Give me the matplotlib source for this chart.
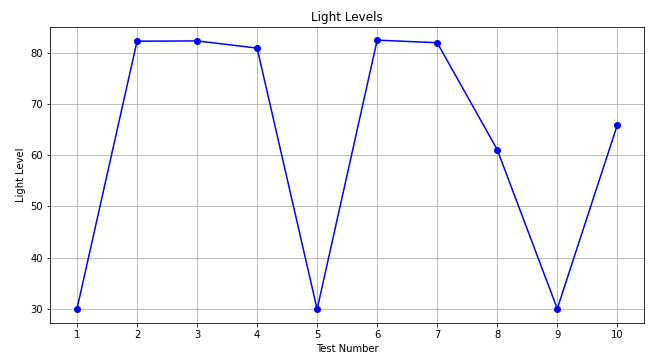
import matplotlib
matplotlib.use("Agg")
import matplotlib.pyplot as plt

test_numbers = [1, 2, 3, 4, 5, 6, 7, 8, 9, 10]
light_levels = [30.0, 82.3, 82.35, 80.95, 29.9, 82.5, 82.0, 61.1, 30.0, 65.9]

W, H, DPI = 649, 356, 72
fig = plt.figure(figsize=(W / DPI, H / DPI), dpi=DPI)
ax = fig.add_axes([50 / W, 1 - 322.7 / H, (644.3 - 50) / W, (322.7 - 26.7) / H])

ax.plot(test_numbers, light_levels, marker="o", linestyle="-", color="b")
ax.set_title("Light Levels")
ax.set_xlabel("Test Number")
ax.set_ylabel("Light Level")
ax.set_xticks(test_numbers)
ax.grid(True)

fig.savefig("out.png", dpi=DPI)
